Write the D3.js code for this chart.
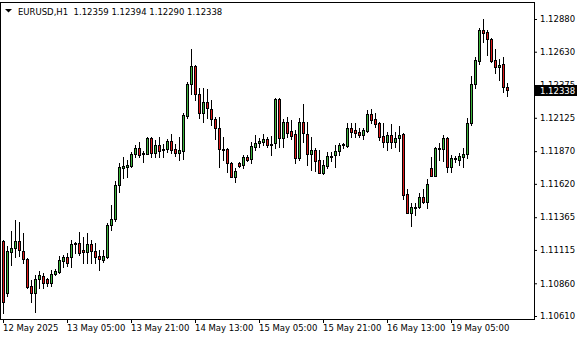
<!DOCTYPE html>
<html><head><meta charset="utf-8">
<script src="https://cdn.jsdelivr.net/npm/d3@7"></script>
<style>
body{margin:0;background:#fff}
svg{display:block}
text{font-family:"DejaVu Sans",Tahoma,sans-serif;font-size:8.5px;fill:#000}
</style>
</head><body>
<svg id="c" width="580" height="340"></svg>
<script>
const symbolLabel = "EURUSD,H1";
const open = [1.11184,1.10787,1.11100,1.11131,1.11184,1.11107,1.11046,1.10840,1.10787,1.10894,
1.10917,1.10894,1.10863,1.10932,1.10947,1.11031,1.11062,1.11062,1.11169,1.11169,
1.11115,1.11100,1.11161,1.11107,1.11069,1.11039,1.11062,1.11306,1.11352,1.11612,
1.11742,1.11749,1.11757,1.11849,1.11895,1.11856,1.11849,1.11971,1.11856,1.11918,
1.11879,1.11887,1.11948,1.11887,1.11856,1.11872,1.12139,1.12383,1.12521,1.12307,
1.12162,1.12246,1.12192,1.12116,1.12047,1.11887,1.11887,1.11780,1.11673,1.11780,
1.11765,1.11826,1.11811,1.11902,1.11933,1.11941,1.11964,1.11925,1.11933,1.12269,
1.11971,1.12093,1.12024,1.12001,1.11818,1.12093,1.12001,1.11849,1.11879,1.11803,
1.11703,1.11757,1.11826,1.11841,1.11872,1.11918,1.11910,1.12047,1.12032,1.12017,
1.11994,1.12024,1.12154,1.12116,1.12085,1.11986,1.11941,1.11994,1.11941,1.11971,
1.12001,1.11543,1.11398,1.11444,1.11444,1.11520,1.11482,1.11742,1.11681,1.11895,
1.11887,1.11971,1.11749,1.11811,1.11803,1.11826,1.11849,1.12085,1.12383,1.12559,
1.12796,1.12781,1.12727,1.12567,1.12513,1.12536,1.12359];
const high = [1.11192,1.11146,1.11260,1.11344,1.11329,1.11245,1.11050,1.10886,1.10924,1.10955,
1.10940,1.10902,1.10962,1.10970,1.11069,1.11077,1.11092,1.11192,1.11177,1.11253,
1.11215,1.11245,1.11192,1.11169,1.11115,1.11115,1.11321,1.11459,1.11642,1.11780,
1.11826,1.11803,1.11864,1.11918,1.11941,1.11872,1.11975,1.11975,1.11956,1.11979,
1.11925,1.11964,1.12001,1.11925,1.11979,1.12162,1.12399,1.12651,1.12529,1.12353,
1.12353,1.12345,1.12261,1.12131,1.12131,1.11979,1.11895,1.11788,1.11742,1.11788,
1.11841,1.11841,1.11941,1.11994,1.11971,1.12001,1.11979,1.11986,1.12276,1.12276,
1.12116,1.12131,1.12108,1.12032,1.12124,1.12231,1.12093,1.11979,1.11895,1.11879,
1.11803,1.11864,1.11864,1.11918,1.11933,1.11933,1.12085,1.12085,1.12085,1.12047,
1.12047,1.12185,1.12192,1.12162,1.12089,1.12085,1.12017,1.12078,1.12017,1.12062,
1.12009,1.11581,1.11474,1.11474,1.11551,1.11581,1.11658,1.11826,1.11899,1.11933,
1.11994,1.11979,1.11841,1.11834,1.11856,1.11895,1.12124,1.12445,1.12590,1.12811,
1.12880,1.12796,1.12731,1.12651,1.12575,1.12590,1.12394];
const low = [1.10634,1.10764,1.11001,1.11062,1.11069,1.11016,1.10825,1.10718,1.10642,1.10825,
1.10825,1.10840,1.10840,1.10924,1.10940,1.10985,1.10993,1.10985,1.11092,1.11077,
1.11016,1.11016,1.11016,1.11016,1.10962,1.11024,1.11054,1.11268,1.11337,1.11559,
1.11665,1.11673,1.11749,1.11826,1.11826,1.11788,1.11845,1.11826,1.11826,1.11826,
1.11826,1.11864,1.11856,1.11834,1.11803,1.11811,1.12124,1.12307,1.12261,1.12124,
1.12093,1.12124,1.12070,1.11964,1.11749,1.11803,1.11711,1.11670,1.11635,1.11749,
1.11742,1.11795,1.11780,1.11879,1.11902,1.11918,1.11902,1.11841,1.11895,1.11902,
1.11902,1.11979,1.11964,1.11780,1.11803,1.11941,1.11765,1.11726,1.11719,1.11700,
1.11696,1.11742,1.11795,1.11749,1.11841,1.11895,1.11902,1.11979,1.11979,1.11979,
1.11964,1.12017,1.12085,1.12055,1.11956,1.11902,1.11879,1.11895,1.11902,1.11872,
1.11505,1.11395,1.11298,1.11383,1.11436,1.11474,1.11436,1.11678,1.11678,1.11803,
1.11795,1.11711,1.11711,1.11788,1.11765,1.11749,1.11818,1.12070,1.12353,1.12536,
1.12705,1.12605,1.12555,1.12467,1.12414,1.12322,1.12290];
const close = [1.10718,1.11107,1.11131,1.11184,1.11115,1.11046,1.10833,1.10787,1.10894,1.10924,
1.10863,1.10863,1.10932,1.10955,1.11039,1.11062,1.11016,1.11161,1.11161,1.11092,
1.11100,1.11161,1.11107,1.11062,1.11046,1.11069,1.11306,1.11352,1.11612,1.11749,
1.11757,1.11765,1.11849,1.11895,1.11841,1.11849,1.11971,1.11856,1.11918,1.11872,
1.11887,1.11948,1.11879,1.11856,1.11879,1.12147,1.12383,1.12521,1.12307,1.12162,
1.12246,1.12200,1.12116,1.12047,1.11887,1.11879,1.11780,1.11673,1.11719,1.11757,
1.11826,1.11803,1.11910,1.11933,1.11948,1.11964,1.11918,1.11918,1.12269,1.11971,
1.12093,1.12009,1.11986,1.11818,1.12093,1.12009,1.11849,1.11879,1.11795,1.11703,
1.11765,1.11834,1.11834,1.11872,1.11918,1.11925,1.12047,1.12017,1.12009,1.11994,
1.12032,1.12154,1.12108,1.12078,1.11979,1.11941,1.11994,1.11941,1.11971,1.11994,
1.11535,1.11398,1.11444,1.11436,1.11520,1.11482,1.11619,1.11681,1.11895,1.11887,
1.11971,1.11749,1.11818,1.11818,1.11834,1.11849,1.12085,1.12383,1.12567,1.12796,
1.12773,1.12727,1.12559,1.12513,1.12529,1.12361,1.12338];
const timeTickIndex = [0,16,32,48,64,80,96,112];
const timeTickLabels = ["12 May 2025","13 May 05:00","13 May 21:00","14 May 13:00","15 May 05:00","15 May 21:00","16 May 13:00","19 May 05:00"];
const priceTicks = [1.12880,1.12630,1.12375,1.12125,1.11870,1.11620,1.11365,1.11115,1.10860,1.10610];
const lastPrice = 1.12338;

const bullColor = "#3cb43c", bearColor = "#e01c1c";
const svg = d3.select("#c");
const n = open.length;
const x = d3.scaleLinear().domain([0, n - 1]).range([3, 507]);
const y = d3.scaleLinear().domain([1.10610, 1.12880]).range([316, 19]);

// frame
svg.append("rect").attr("x",0.5).attr("y",2.5).attr("width",534).attr("height",317)
  .attr("fill","none").attr("stroke","#000").attr("shape-rendering","crispEdges");

// header
svg.append("path").attr("d","M5,9 L12,9 L8.5,12.5 Z").attr("fill","#000");
svg.append("text").attr("x",18).attr("y",14.5).style("white-space","pre")
  .text(symbolLabel + "  " + [open[n-1],high[n-1],low[n-1],close[n-1]].map(d3.format(".5f")).join(" "));

// candles
const g = svg.append("g").attr("shape-rendering","crispEdges");
d3.range(n).forEach(i => {
  const cx = Math.round(x(i));
  const o = open[i], c = close[i];
  g.append("line").attr("x1",cx+0.5).attr("x2",cx+0.5)
    .attr("y1",Math.round(y(high[i]))).attr("y2",Math.round(y(low[i]))+1)
    .attr("stroke","#000");
  const top = Math.round(y(Math.max(o,c))), bot = Math.round(y(Math.min(o,c)));
  if (bot - top < 1) {
    g.append("line").attr("x1",cx-1).attr("x2",cx+2).attr("y1",top+0.5).attr("y2",top+0.5).attr("stroke","#000");
  } else {
    g.append("rect").attr("x",cx-0.5).attr("y",top+0.5).attr("width",2).attr("height",bot-top)
      .attr("fill", c >= o ? bullColor : bearColor).attr("stroke","#000");
  }
});

// price axis
const ya = svg.append("g").attr("transform","translate(534,0)")
  .call(d3.axisRight(y).tickValues(priceTicks).tickSize(3).tickPadding(3).tickFormat(d3.format(".5f")));
ya.select(".domain").remove();
ya.selectAll("text").attr("font-family",null).attr("font-size",null);
ya.selectAll("line").attr("stroke","#000");

// time axis
const xa = svg.append("g").attr("transform","translate(0,319)")
  .call(d3.axisBottom(x).tickValues(timeTickIndex).tickSize(4).tickFormat((d,i)=>timeTickLabels[i]));
xa.select(".domain").remove();
xa.selectAll("line").attr("stroke","#000");
xa.selectAll("text").attr("font-family",null).attr("font-size",null)
  .attr("text-anchor","start").attr("x",-0.5).attr("y",11.5).attr("dy",null);

// last price marker (covers the price label beneath it, as in the terminal)
const yl = Math.round(y(lastPrice));
svg.append("rect").attr("x",535).attr("y",yl-5).attr("width",42).attr("height",11).attr("fill","#000");
svg.append("text").attr("x",540).attr("y",yl+3.5).style("fill","#fff").text(d3.format(".5f")(lastPrice));
</script>
</body></html>
